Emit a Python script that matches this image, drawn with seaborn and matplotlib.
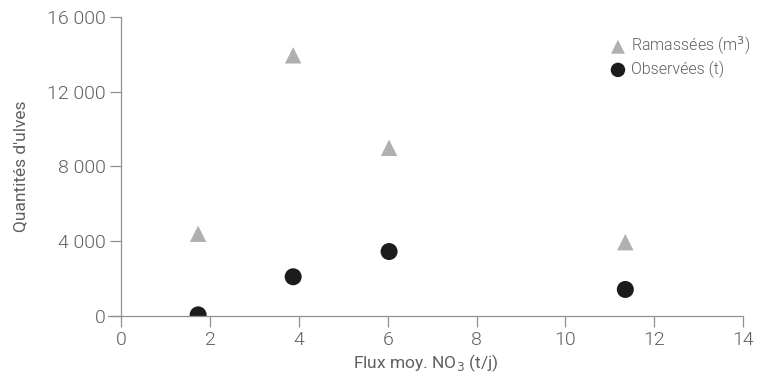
import pandas as pd
import seaborn as sns
import matplotlib.pyplot as plt

flux = [1.73, 3.87, 6.03, 11.35]
ramassees = [4400, 13950, 9000, 3950]
observees = [60, 2100, 3450, 1420]
xticks = [0, 2, 4, 6, 8, 10, 12, 14]
yticks = [0, 4000, 8000, 12000, 16000]
ylabels = ["0", "4 000", "8 000", "12 000", "16 000"]

sns.set_style("white")
plt.rcParams["font.family"] = ["Roboto", "DejaVu Sans"]
plt.rcParams["font.weight"] = 300
grey = "#606060"

df = pd.DataFrame({"flux": flux, "ram": ramassees, "obs": observees})

fig = plt.figure(figsize=(7.59, 3.78), dpi=100)
ax = fig.add_axes([108 / 759, 62 / 378, (743 - 108) / 759, (316 - 17) / 378])

sns.scatterplot(data=df, x="flux", y="ram", marker="^", s=140, color="#b0b0b0",
                edgecolor="none", label="Ramassées (m$^3$)", ax=ax)
sns.scatterplot(data=df, x="flux", y="obs", marker="o", s=150, color="#1c1c1c",
                edgecolor="none", label="Observées (t)", ax=ax)

ax.set_xlim(-0.3, 14)
ax.set_ylim(0, 16000)
ax.set_xticks(xticks)
ax.set_yticks(yticks)
ax.set_yticklabels(ylabels)
ax.spines["left"].set_position(("data", 0))
for s in ["top", "right"]:
    ax.spines[s].set_visible(False)
for s in ["left", "bottom"]:
    ax.spines[s].set_color("#909090")
    ax.spines[s].set_linewidth(0.9)
ax.tick_params(direction="out", length=8, width=0.9, color="#909090",
               labelcolor=grey, labelsize=14, left=True, bottom=True, pad=3)
ax.set_xlabel("Flux moy. NO$_3$ (t/j)", color=grey, fontsize=12.5, labelpad=2)
ax.set_ylabel("Quantités d'ulves", color=grey, fontsize=12.5, labelpad=14)

leg = ax.legend(loc="upper left", bbox_to_anchor=((594 - 108) / 635, 0.99), frameon=False,
                fontsize=11.5, handletextpad=0.2, handlelength=1.2,
                labelspacing=0.25, markerscale=0.85)
for t in leg.get_texts():
    t.set_color(grey)

fig.savefig("out.png", dpi=100)
